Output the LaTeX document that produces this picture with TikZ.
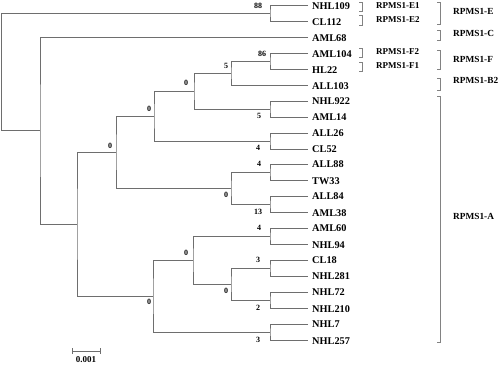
\documentclass[tikz,border=0pt]{standalone}
\usepackage{fontspec}
\setmainfont{Liberation Serif}
\definecolor{treegray}{RGB}{110,110,110}
\definecolor{brgray}{RGB}{130,130,130}
\begin{document}
\begin{tikzpicture}[x=1pt,y=-1pt,
  br/.style={draw=treegray, line width=0.9pt},
  leaf/.style={anchor=west, font=\fontsize{10.3}{12}\selectfont\bfseries, inner sep=0pt},
  boot/.style={font=\fontsize{8}{9}\selectfont\bfseries, inner sep=0pt},
  sub/.style={anchor=west, font=\fontsize{9}{10}\selectfont\bfseries, inner sep=0pt},
  grp/.style={anchor=west, font=\fontsize{9.3}{11}\selectfont\bfseries, inner sep=0pt},
  brk/.style={draw=brgray, line width=0.7pt}]
\useasboundingbox (0,0) rectangle (500,365);

% leaf tips
\coordinate (tNHL109) at (308,5);
\coordinate (tCL112)  at (308,21);
\coordinate (tAML68)  at (308,37);
\coordinate (tAML104) at (308,53);
\coordinate (tHL22)   at (308,69);
\coordinate (tALL103) at (308,85);
\coordinate (tNHL922) at (308,101);
\coordinate (tAML14)  at (308,117);
\coordinate (tALL26)  at (308,133);
\coordinate (tCL52)   at (308,149);
\coordinate (tALL88)  at (308,164.5);
\coordinate (tTW33)   at (308,180.5);
\coordinate (tALL84)  at (308,196.5);
\coordinate (tAML38)  at (308,212.5);
\coordinate (tAML60)  at (308,228.5);
\coordinate (tNHL94)  at (308,244.5);
\coordinate (tCL18)   at (308,260);
\coordinate (tNHL281) at (308,276);
\coordinate (tNHL72)  at (308,292);
\coordinate (tNHL210) at (308,308);
\coordinate (tNHL7)   at (308,324);
\coordinate (tNHL257) at (308,340);

% leaf labels
\node[leaf] (NHL109) at (312,6) {NHL109};
\node[leaf] (CL112)  at (312,22) {CL112};
\node[leaf] (AML68)  at (312,38) {AML68};
\node[leaf] (AML104) at (312,54) {AML104};
\node[leaf] (HL22)   at (312,70) {HL22};
\node[leaf] (ALL103) at (312,86) {ALL103};
\node[leaf] (NHL922) at (312,101) {NHL922};
\node[leaf] (AML14)  at (312,117.5) {AML14};
\node[leaf] (ALL26)  at (312,133) {ALL26};
\node[leaf] (CL52)   at (312,149.5) {CL52};
\node[leaf] (ALL88)  at (312,164.5) {ALL88};
\node[leaf] (TW33)   at (312,181) {TW33};
\node[leaf] (ALL84)  at (312,196.5) {ALL84};
\node[leaf] (AML38)  at (312,213) {AML38};
\node[leaf] (AML60)  at (312,228) {AML60};
\node[leaf] (NHL94)  at (312,245) {NHL94};
\node[leaf] (CL18)   at (312,260) {CL18};
\node[leaf] (NHL281) at (312,276.5) {NHL281};
\node[leaf] (NHL72)  at (312,292) {NHL72};
\node[leaf] (NHL210) at (312,309) {NHL210};
\node[leaf] (NHL7)   at (312,324) {NHL7};
\node[leaf] (NHL257) at (312,341) {NHL257};

% internal nodes
\coordinate (nE)  at (270,13);
\coordinate (nF)  at (270,61);
\coordinate (nB)  at (231,73);
\coordinate (nA1) at (270,109);
\coordinate (nC)  at (194,91);
\coordinate (nA2) at (270,141);
\coordinate (nD)  at (154,116);
\coordinate (nA3) at (270,172.5);
\coordinate (nA4) at (270,204.5);
\coordinate (nG)  at (231,188.5);
\coordinate (nH)  at (116,152);
\coordinate (nA5) at (270,236.5);
\coordinate (nA6) at (270,268);
\coordinate (nA7) at (270,300);
\coordinate (nI)  at (231,284);
\coordinate (nJ)  at (193,260);
\coordinate (nA8) at (270,332);
\coordinate (nK)  at (153,296);
\coordinate (nL)  at (77,224);
\coordinate (nM)  at (40,130.5);
\coordinate (nR)  at (1.7,71.75);

% branches
\draw[br] (tNHL109) -| (nE) |- (tCL112);
\draw[br] (tAML104) -| (nF) |- (tHL22);
\draw[br] (nF) -| (nB) |- (tALL103);
\draw[br] (tNHL922) -| (nA1) |- (tAML14);
\draw[br] (nB) -| (nC) |- (nA1);
\draw[br] (tALL26) -| (nA2) |- (tCL52);
\draw[br] (nC) -| (nD) |- (nA2);
\draw[br] (tALL88) -| (nA3) |- (tTW33);
\draw[br] (tALL84) -| (nA4) |- (tAML38);
\draw[br] (nA3) -| (nG) |- (nA4);
\draw[br] (nD) -| (nH) |- (nG);
\draw[br] (tAML60) -| (nA5) |- (tNHL94);
\draw[br] (tCL18) -| (nA6) |- (tNHL281);
\draw[br] (tNHL72) -| (nA7) |- (tNHL210);
\draw[br] (nA6) -| (nI) |- (nA7);
\draw[br] (nA5) -| (nJ) |- (nI);
\draw[br] (tNHL7) -| (nA8) |- (tNHL257);
\draw[br] (nJ) -| (nK) |- (nA8);
\draw[br] (nH) -| (nL) |- (nK);
\draw[br] (tAML68) -| (nM) |- (nL);
\draw[br] (nE) -| (nR) |- (nM);

% bootstrap values
\node[boot] (b88)  at (258,6) {88};
\node[boot] (b86)  at (262,54) {86};
\node[boot] (b5a)  at (226,66) {5};
\node[boot] (b0a)  at (186,83) {0};
\node[boot] (b0b)  at (149,109) {0};
\node[boot] (b0c)  at (110,146) {0};
\node[boot] (b5b)  at (259,116) {5};
\node[boot] (b4a)  at (258,148) {4};
\node[boot] (b4b)  at (259,164) {4};
\node[boot] (b0e)  at (226,195) {0};
\node[boot] (b13)  at (258,212) {13};
\node[boot] (b4c)  at (259,228) {4};
\node[boot] (b0f)  at (186,253) {0};
\node[boot] (b3a)  at (258,260) {3};
\node[boot] (b0g)  at (226,291) {0};
\node[boot] (b2)   at (258,308) {2};
\node[boot] (b0h)  at (149,302) {0};
\node[boot] (b3b)  at (258,340) {3};

% sub-group brackets
\draw[brk] (359,2) -- (362,2) -- (362,11) -- (359,11);
\draw[brk] (359,15) -- (362,15) -- (362,25) -- (359,25);
\draw[brk] (359,48) -- (362,48) -- (362,57) -- (359,57);
\draw[brk] (359,62) -- (362,62) -- (362,71) -- (359,71);
\node[sub] (sE1) at (376,6) {RPMS1-E1};
\node[sub] (sE2) at (376,20) {RPMS1-E2};
\node[sub] (sF2) at (376,52) {RPMS1-F2};
\node[sub] (sF1) at (376,66) {RPMS1-F1};

% group brackets
\draw[brk] (437,2) -- (440,2) -- (440,24) -- (437,24);
\draw[brk] (437,30) -- (440,30) -- (440,40) -- (437,40);
\draw[brk] (437,50) -- (440,50) -- (440,69) -- (437,69);
\draw[brk] (437,78) -- (440,78) -- (440,90) -- (437,90);
\draw[brk] (437,96) -- (440,96) -- (440,342) -- (437,342);
\node[grp] (gE)  at (453,11) {RPMS1-E};
\node[grp] (gC)  at (453,33) {RPMS1-C};
\node[grp] (gF)  at (453,59) {RPMS1-F};
\node[grp] (gB2) at (453,80) {RPMS1-B2};
\node[grp] (gA)  at (453,216) {RPMS1-A};

% scale bar
\draw[br] (72,351) -- (100,351);
\draw[br] (72,348) -- (72,354);
\draw[br] (100,348) -- (100,354);
\node[boot, font=\fontsize{9}{11}\selectfont\bfseries] (sc) at (86,360) {0.001};
\end{tikzpicture}
\end{document}
